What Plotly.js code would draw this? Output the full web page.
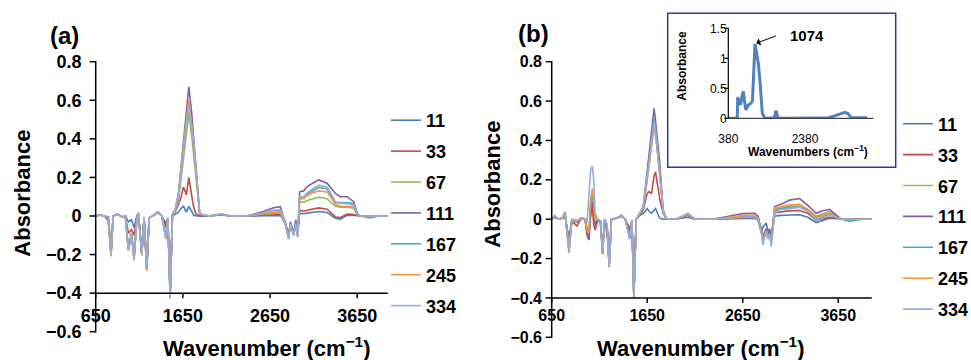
<!DOCTYPE html>
<html><head><meta charset="utf-8">
<script src="https://cdn.plot.ly/plotly-3.0.1.min.js"></script>
<style>html,body{margin:0;padding:0;background:#fff}#chart{width:971px;height:360px}</style>
</head><body><div id="chart"></div>
<script>
const SERIES = ['11','33','67','111','167','245','334'];
const COLORS = ['#4a7ebb','#be4b48','#98b954','#7d60a0','#46aac5','#f69240','#94aedb'];

// Panel (a) wavenumbers
const WN_A = [650,700,750,795,826,850,900,950,990,1025,1060,1090,1121,1140,1179,1205,1236,1263,1320,1360,1409,1455,1478,1504,1530,
 1561,1600,1630,1657,1690,1718,1750,1772,1800,1843,
 1950,2090,2200,
 2385,2550,2690,2768,2826,2863,2883,2921,2945,2967,2990,3036,3075,3140,3208,3304,3400,3457,3534,3610,3649,3679,
 3750,3800,3900,4000];
const A_11 = [0,0.005,0,-0.005,-0.19,0,0.01,-0.005,0,-0.03,-0.02,-0.06,0,0.015,-0.19,-0.01,-0.27,-0.01,0.005,0.02,0,-0.04,-0.01,-0.4,0,
 0.01,0.02,0.04,0.05,0.02,0.05,0.025,0.005,0,0,
 0,0.005,0,
 0,0.001,0.002,0.003,-0.035,-0.1,-0.04,-0.085,-0.04,-0.09,0.015,0.012,0.015,0.02,0.023,0.018,-0.012,-0.017,0.003,0.004,0,0,
 0,0,0,0];
const A_33 = [0,0.005,0,-0.025,-0.195,0,0.01,-0.005,0,-0.09,-0.07,-0.1,-0.01,0.015,-0.2,-0.01,-0.28,-0.01,0.005,0.02,0,-0.06,-0.01,-0.41,0,
 0.02,0.06,0.1,0.15,0.11,0.2,0.12,0.05,0.01,0,
 0,0.008,0,
 0,0.004,0.008,0.009,-0.04,-0.105,-0.04,-0.09,-0.04,-0.095,0.03,0.025,0.03,0.037,0.042,0.035,-0.005,-0.008,0.01,0.008,0.002,0,
 0,0,0,0];
const A_67 = [0,0.005,0,-0.01,-0.195,0,0.01,-0.005,0,-0.17,-0.09,-0.21,-0.02,0.015,-0.2,-0.01,-0.275,-0.01,0.005,0.02,0,-0.11,-0.01,-0.41,0,
 0.02,0.08,0.2,0.3,0.42,0.53,0.42,0.33,0.2,0.01,
 0,0.008,0,
 0,0.008,0.015,0.017,-0.045,-0.11,-0.045,-0.095,-0.045,-0.1,0.075,0.07,0.08,0.09,0.097,0.09,0.05,0.045,0.045,0.04,0.008,0,
 0,0,0,0];
const A_111 = [0,0.005,0,-0.02,-0.2,0,0.01,-0.005,0,-0.175,-0.09,-0.225,-0.02,0.015,-0.2,-0.01,-0.28,-0.01,0.005,0.02,0,-0.115,-0.01,-0.41,0.01,
 0.03,0.12,0.27,0.39,0.55,0.67,0.54,0.42,0.27,0.01,
 0,0.01,0,
 0,0.02,0.043,0.048,-0.036,-0.107,-0.03,-0.09,-0.02,-0.1,0.126,0.13,0.152,0.17,0.187,0.17,0.117,0.1,0.1,0.074,0.016,0,
 0,0,0,0];
const A_167 = [0,0.005,0,-0.01,-0.205,0,0.01,-0.005,0,-0.175,-0.09,-0.22,-0.02,0.015,-0.2,-0.01,-0.28,-0.01,0.005,0.02,0,-0.115,-0.01,-0.42,0,
 0.03,0.1,0.24,0.35,0.48,0.57,0.47,0.38,0.24,0.01,
 0,0.008,0,
 0,0.012,0.028,0.03,-0.04,-0.115,-0.04,-0.1,-0.04,-0.1,0.095,0.1,0.115,0.13,0.148,0.14,0.07,0.068,0.07,0.065,0.015,0,
 -0.008,-0.01,0,0];
const A_245 = [0,0.005,0,-0.01,-0.21,0,0.01,-0.005,0,-0.18,-0.09,-0.23,-0.02,0.015,-0.205,-0.01,-0.285,-0.01,0.005,0.02,0,-0.12,-0.01,-0.43,0,
 0.03,0.11,0.25,0.36,0.5,0.6,0.48,0.39,0.24,0.01,
 0,0.01,0,
 0,0.01,0.02,0.022,-0.045,-0.12,-0.045,-0.1,-0.045,-0.11,0.09,0.09,0.105,0.12,0.13,0.125,0.06,0.05,0.05,0.045,0.01,0,
 0,0,0,0];
const A_334 = [0,0.005,0,-0.01,-0.2,0,0.01,-0.005,0,-0.175,-0.09,-0.22,-0.02,0.015,-0.2,-0.01,-0.28,-0.01,0.005,0.02,0,-0.115,-0.01,-0.42,0,
 0.03,0.11,0.24,0.35,0.48,0.57,0.46,0.38,0.24,0.01,
 0,0.01,0,
 0,0.015,0.03,0.032,-0.04,-0.12,-0.04,-0.1,-0.04,-0.11,0.1,0.1,0.12,0.14,0.16,0.15,0.075,0.065,0.065,0.055,0.01,0,
 0,0,0,0];

// Panel (b) wavenumbers
const WN_B = [650,680,720,760,792,831,860,914,960,1000,1020,1040,1058,1075,1090,1105,1130,1160,1183,1205,1230,1252,1275,1330,1380,1420,1468,1490,1510,1535,
 1573,1610,1649,1670,1695,1722,1737,1761,1782,1816,1852,
 1950,2077,2150,2337,
 2500,2650,2775,2810,2844,2861,2896,2913,2930,2948,2984,3020,3070,3140,3245,3331,3419,3470,3558,3625,3680,
 3720,3770,3820,3900,4000];
const B_11 = [0,0.01,0,0.005,0.01,-0.1,-0.005,-0.01,0.005,0,-0.05,-0.06,0.02,0.05,0.02,-0.01,0,-0.01,-0.14,0,-0.08,-0.2,0,0.005,0.015,0,-0.06,-0.005,-0.36,0,
 0.02,0.03,0.054,0.04,0.03,0.045,0.054,0.025,0.005,0,0,
 0,0.01,0,0,
 0.002,0.004,0.005,-0.005,-0.07,-0.04,-0.02,-0.06,-0.05,-0.09,0.015,0.018,0.02,0.021,0.022,0.01,-0.017,-0.01,0.005,0.002,0,
 0,0,0,0,0];
const B_33 = [0,0.01,0,0.005,0.015,-0.12,-0.01,-0.035,0.005,0,-0.08,-0.105,0.03,0.07,-0.03,-0.055,-0.01,-0.01,-0.17,0,-0.04,-0.24,0,0.005,0.015,0,-0.05,-0.005,-0.39,0,
 0.02,0.05,0.13,0.14,0.13,0.22,0.24,0.17,0.1,0.03,0,
 0,0.02,0,0,
 0.004,0.008,0.01,0,-0.05,-0.09,-0.05,-0.09,-0.06,-0.1,0.03,0.035,0.038,0.042,0.044,0.03,-0.005,0,0.01,0.005,0,
 0,0,0,0,0];
const B_67 = [0,0.015,0,0.005,0.015,-0.15,-0.01,-0.01,0.005,0,-0.06,-0.08,0.08,0.14,0.07,-0.02,0,-0.01,-0.175,0,-0.03,-0.24,0,0.005,0.02,0,-0.1,-0.005,-0.39,0,
 0.025,0.06,0.2,0.29,0.37,0.48,0.43,0.32,0.24,0.04,0,
 0,0.025,0,0,
 0.008,0.012,0.015,0,-0.055,-0.1,-0.05,-0.09,-0.07,-0.11,0.05,0.055,0.06,0.065,0.068,0.05,0.015,0.025,0.04,0.015,0,
 0,0,0,0,0];
const B_111 = [0,0.015,0,0.005,0.015,-0.14,-0.01,-0.015,0.005,0,-0.08,-0.1,0.04,0.09,0.05,-0.03,0,-0.01,-0.175,0,-0.03,-0.24,0,0.005,0.02,0,-0.1,-0.005,-0.39,0,
 0.03,0.07,0.24,0.34,0.44,0.563,0.5,0.37,0.28,0.05,0,
 0,0.025,0,0,
 0.015,0.028,0.03,0.015,-0.05,-0.09,-0.05,-0.09,-0.06,-0.1,0.064,0.07,0.08,0.097,0.105,0.07,0.03,0.04,0.05,0.022,0,
 0,0,0,0,0];
const B_167 = [0,0.015,0,0.005,0.015,-0.17,-0.01,-0.01,0.005,0,-0.06,-0.07,0.08,0.13,0.08,-0.01,0,-0.01,-0.175,0,-0.03,-0.24,0,0.005,0.02,0,-0.1,-0.005,-0.395,0,
 0.03,0.065,0.22,0.31,0.4,0.51,0.46,0.34,0.25,0.045,0,
 0,0.025,0,0,
 0.008,0.015,0.015,0,-0.06,-0.11,-0.06,-0.1,-0.07,-0.12,0.04,0.05,0.055,0.06,0.062,0.045,0,0.01,0.025,0.01,0,
 -0.005,-0.01,-0.005,0,0];
const B_245 = [0,0.015,0,0.005,0.025,-0.165,-0.01,-0.01,0.005,0,-0.06,-0.07,0.1,0.155,0.09,-0.01,0,-0.01,-0.18,0,-0.03,-0.245,0,0.005,0.02,0,-0.1,-0.005,-0.4,0,
 0.03,0.065,0.2,0.29,0.37,0.475,0.43,0.32,0.24,0.04,0,
 0,0.025,0,0,
 0.01,0.018,0.02,0.005,-0.06,-0.11,-0.06,-0.1,-0.075,-0.12,0.055,0.06,0.065,0.072,0.076,0.05,0.01,0.018,0.03,0.01,0,
 0,0,0,0,0];
const B_334 = [0,0.02,0,0.01,0.04,-0.16,0,-0.005,0.005,-0.005,-0.01,0.12,0.25,0.27,0.2,0.03,0,-0.01,-0.175,0,-0.03,-0.24,0,0.005,0.02,0,-0.1,-0.005,-0.39,0,
 0.03,0.065,0.21,0.3,0.39,0.495,0.45,0.33,0.25,0.045,0,
 0,0.03,0,0,
 0.005,0.01,0.01,-0.005,-0.07,-0.13,-0.06,-0.1,-0.08,-0.14,0.03,0.045,0.05,0.055,0.06,0.04,-0.005,0.005,0.02,0.01,0,
 0,0,0,0,0];

// Inset spectrum
const INSET_WN = [380,500,615,625,660,700,740,771,800,834,870,902,972,1010,1076,1110,1162,1207,1267,1319,1360,1580,1624,1668,1750,2000,2900,3000,3150,3300,3420,3500,3585,3700,4000];
const INSET_ABS = [0,0,0,0.35,0.3,0.22,0.38,0.45,0.3,0.14,0.18,0.22,0.25,0.3,1.24,1.12,0.92,0.61,0.08,0.02,0,0.01,0.13,0.01,0,0,0,0.01,0.04,0.08,0.1,0.08,0.01,0.01,0.01];

// Tick values
const MAIN_X_TICKS = [650,1650,2650,3650];
const MAIN_Y_TICKS = [-0.6,-0.4,-0.2,0,0.2,0.4,0.6,0.8];
const INSET_Y_TICKS = [0,0.5,1,1.5];

const A_VALUES = [A_11,A_33,A_67,A_111,A_167,A_245,A_334];
const B_VALUES = [B_11,B_33,B_67,B_111,B_167,B_245,B_334];

const W = 971, H = 360;
const fx = p => p / W, fy = p => 1 - p / H;
const FONT = 'Liberation Sans, Arial, Helvetica, sans-serif';
const CLEAR = 'rgba(0,0,0,0)';

// Panel geometry (pixels): x = [left, right], y = [bottom, top]; ranges of each axis
const GEO_A = {x:[95.7,387.7], y:[331.7,61.7], xr:[650,4000], yr:[-0.6,0.8], cross:-0.4};
const GEO_B = {x:[551.7,871.7], y:[337.3,61.7], xr:[650,4000], yr:[-0.6,0.8], cross:-0.4};
const GEO_I = {x:[728.3,873.3], y:[118.3,28.3], xr:[380,4160], yr:[0,1.5], cross:0};
const mapX = (g, v) => g.x[0] + (v - g.xr[0]) / (g.xr[1] - g.xr[0]) * (g.x[1] - g.x[0]);
const mapY = (g, v) => g.y[0] + (v - g.yr[0]) / (g.yr[1] - g.yr[0]) * (g.y[1] - g.y[0]);

const traces = [];
SERIES.forEach((s, i) => {
  traces.push({type:'scatter', mode:'lines', x:WN_A, y:A_VALUES[i], name:s, xaxis:'x', yaxis:'y',
    legend:'legend', legendgroup:'a'+s, line:{color:COLORS[i], width:1.6}, hoverinfo:'skip'});
});
SERIES.forEach((s, i) => {
  traces.push({type:'scatter', mode:'lines', x:WN_B, y:B_VALUES[i], name:s, xaxis:'x2', yaxis:'y2',
    legend:'legend2', legendgroup:'b'+s, line:{color:COLORS[i], width:1.6}, hoverinfo:'skip'});
});
traces.push({type:'scatter', mode:'lines', x:INSET_WN, y:INSET_ABS, xaxis:'x3', yaxis:'y3', showlegend:false,
  line:{color:'#4f81bd', width:3}, hoverinfo:'skip'});

const axBase = {showline:true, linecolor:CLEAR, linewidth:1.5, ticks:'outside', tickcolor:CLEAR, tickwidth:1.5,
  showgrid:false, zeroline:false, fixedrange:true};
const bold = (size) => ({family:FONT, size:size, color:'#000', weight:'bold'});
const reg = (size) => ({family:FONT, size:size, color:'#000'});

// axis strokes as thin filled boxes placed through each axis' domain/range mapping
const box = (l, r, t, b, color) => ({type:'rect', xref:'paper', yref:'paper', x0:fx(l), x1:fx(r), y0:fy(b), y1:fy(t),
  fillcolor:color, line:{width:0}, layer:'above'});
function axisBoxes(g, xTicks, yTicks, w, xLen, yLen, xColor) {
  const h = w / 2, out = [];
  const xL = g.x[0], xR = g.x[1], yT = g.y[1], yB = g.y[0], yc = mapY(g, g.cross);
  out.push(box(xL - h, xL + h, yT - h, yB + h, '#000'));
  out.push(box(xL - h, xR, yc - h, yc + h, xColor));
  yTicks.forEach(v => { const p = mapY(g, v); out.push(box(xL - yLen, xL, p - h, p + h, '#000')); });
  xTicks.forEach(v => { const p = mapX(g, v); out.push(box(p - h, p + h, yc, yc + xLen, '#000')); });
  return out;
}

const legBase = {xanchor:'left', yanchor:'top', font:bold(18), traceorder:'grouped', tracegroupgap:4.5,
  bgcolor:CLEAR, itemwidth:30};
const ann = (o) => Object.assign({xref:'paper', yref:'paper', xanchor:'center', yanchor:'middle', showarrow:false}, o);

const shapes = [].concat(
  axisBoxes(GEO_A, MAIN_X_TICKS, MAIN_Y_TICKS, 1.5, 5, 6, '#000'),
  axisBoxes(GEO_B, MAIN_X_TICKS, MAIN_Y_TICKS, 1.5, 5, 6, '#000'),
  axisBoxes(GEO_I, [], INSET_Y_TICKS, 1.2, 0, 4, '#404040'),
  [{type:'rect', xref:'paper', yref:'paper', x0:fx(667.7), x1:fx(895.7), y0:fy(167.3), y1:fy(13.3),
    line:{color:'#35359c', width:1.5}, fillcolor:CLEAR, layer:'above'}]
);

const dom = g => ({domain:[fx(g.x[0]), fx(g.x[1])], range:g.xr});
const domY = g => ({domain:[fy(g.y[0]), fy(g.y[1])], range:g.yr});

const layout = {
  width:W, height:H, margin:{l:0,r:0,t:0,b:0,autoexpand:false}, paper_bgcolor:'#fff', plot_bgcolor:'#fff',
  font:{family:FONT, color:'#000'}, showlegend:true,
  xaxis: Object.assign({}, axBase, dom(GEO_A), {anchor:'free', position:fy(mapY(GEO_A, GEO_A.cross)),
    ticklen:5, tickvals:MAIN_X_TICKS, tickfont:bold(18), ticklabelstandoff:1}),
  yaxis: Object.assign({}, axBase, domY(GEO_A), {anchor:'x',
    ticklen:6, tickvals:MAIN_Y_TICKS, tickfont:bold(18), ticklabelstandoff:3}),
  xaxis2: Object.assign({}, axBase, dom(GEO_B), {anchor:'free', position:fy(mapY(GEO_B, GEO_B.cross)),
    ticklen:5, tickvals:MAIN_X_TICKS, tickfont:bold(16), ticklabelstandoff:-3}),
  yaxis2: Object.assign({}, axBase, domY(GEO_B), {anchor:'x2',
    ticklen:6, tickvals:MAIN_Y_TICKS, tickfont:bold(16), ticklabelstandoff:-1}),
  xaxis3: Object.assign({}, axBase, dom(GEO_I), {anchor:'y3',
    ticks:'', tick0:380, dtick:2000, tickfont:reg(12), ticklabelstandoff:9}),
  yaxis3: Object.assign({}, axBase, domY(GEO_I), {anchor:'x3', linewidth:1.2,
    ticklen:4, tickwidth:1, tickvals:INSET_Y_TICKS, tickfont:reg(12), ticklabelstandoff:-6}),
  legend: Object.assign({}, legBase, {x:fx(386), y:fy(102)}),
  legend2: Object.assign({}, legBase, {x:fx(898), y:fy(105.5)}),
  shapes: shapes,
  annotations: [
    ann({text:'(a)', x:fx(64), y:fy(36), font:bold(24)}),
    ann({text:'(b)', x:fx(533), y:fy(33), font:bold(24)}),
    ann({text:'Absorbance', x:fx(21.7), y:fy(193), textangle:-90, font:bold(22)}),
    ann({text:'Absorbance', x:fx(491.7), y:fy(184), textangle:-90, font:bold(22)}),
    ann({text:'Wavenumber (cm<sup>−1</sup>)', x:fx(266), y:fy(347), font:bold(22)}),
    ann({text:'Wavenumber (cm<sup>−1</sup>)', x:fx(700), y:fy(347), font:bold(22)}),
    ann({text:'Absorbance', x:fx(681.7), y:fy(66), textangle:-90, font:bold(12)}),
    ann({text:'Wavenumbers (cm<sup>−1</sup>)', x:fx(807.5), y:fy(151), font:bold(12)}),
    ann({text:'1074', x:fx(806.5), y:fy(36), font:bold(15)}),
    {text:'', xref:'x3', yref:'y3', x:1110, y:1.25, ax:21, ay:-8, showarrow:true, arrowhead:1, arrowsize:1.3, arrowwidth:1, arrowcolor:'#000'}
  ]
};

Plotly.newPlot('chart', traces, layout, {staticPlot:true, displayModeBar:false});
</script>
</body></html>
